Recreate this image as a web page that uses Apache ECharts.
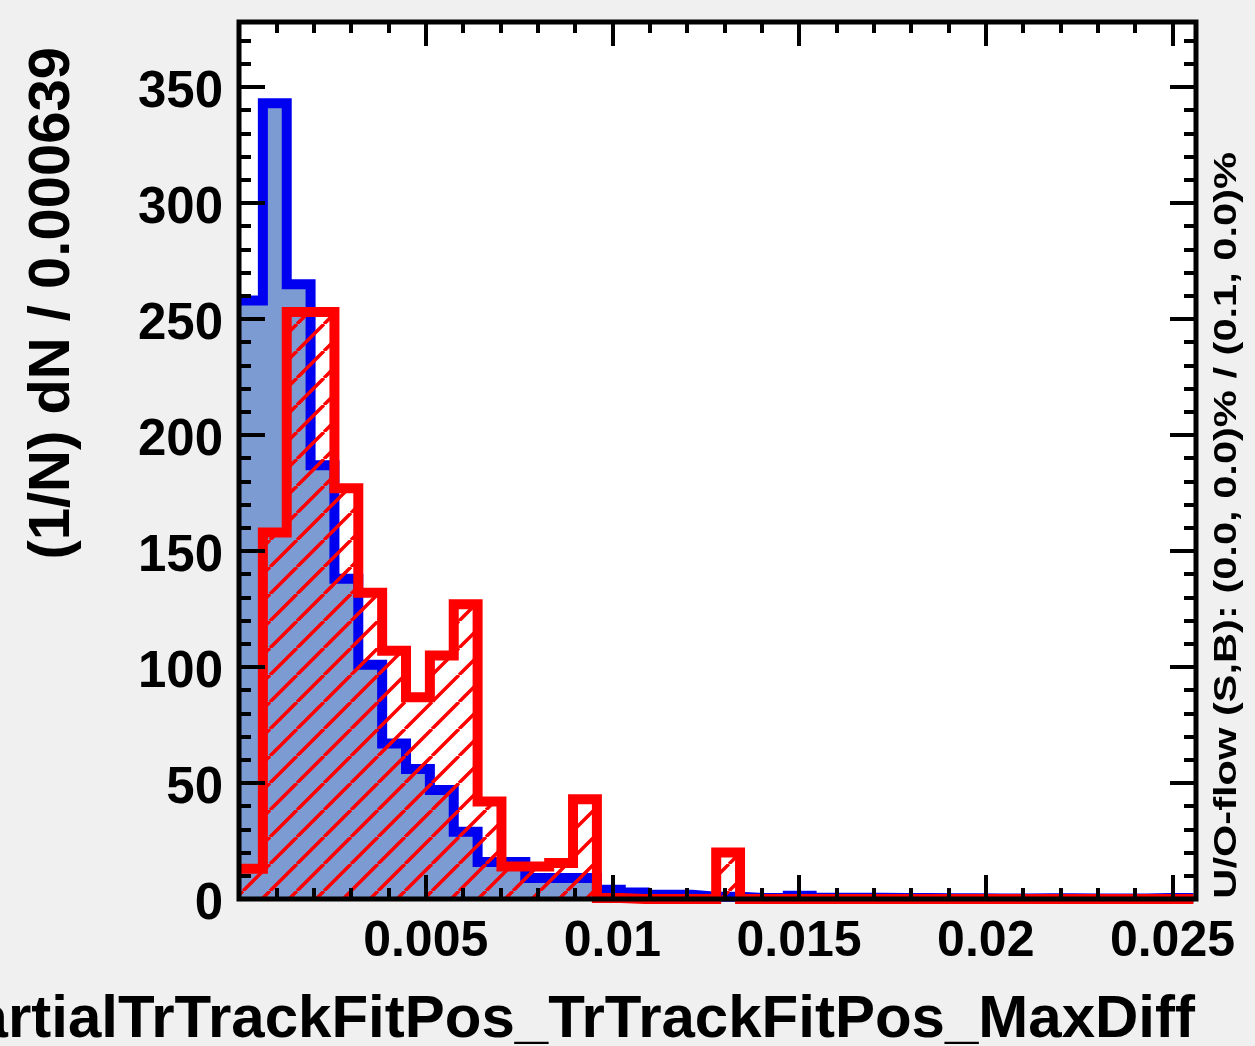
<!DOCTYPE html>
<html>
<head>
<meta charset="utf-8">
<script src="https://cdn.jsdelivr.net/npm/echarts@6/dist/echarts.min.js"></script>
<style>
  html, body { margin: 0; padding: 0; background: #f0f0f0; }
  #main { width: 1255px; height: 1046px; }
</style>
</head>
<body>
<div id="main"></div>
<script>
// histogram bins (width 0.000639)
const binWidth = 0.000639
const signalValues = [
  258, 343, 265, 187, 138, 101, 67, 56, 47, 29,
  16, 16, 9, 9, 9, 4, 2.8, 1.8, 1.8, 1,
  1, 0.4, 0.4, 1.4, 0.5, 0.5, 0.5, 0.4, 0.4, 0.3,
  0.3, 0.2, 0.2, 0.3, 0.3, 0.2, 0.2, 0.2, 0.4, 0.4
]
const backgroundValues = [
  13, 158, 253, 253, 177, 132, 107, 87, 105, 127,
  42, 14, 14, 15.5, 43, 0.4, 0, 0, 0, 0,
  20, 0, 0, 0, 0, 0, 0, 0, 0, 0,
  0, 0, 0, 0, 0, 0, 0, 0, 0, 0
]
const xTickStep = 0.005
const yTickStep = 50

const font = 'Liberation Sans'
const xMax = 0.02563
const yMax = 378

// left bin edges -> step line points
function stepPoints(vals) {
  let pts = vals.map((v, i) => [i * binWidth, v])
  pts.push([vals.length * binWidth, vals[vals.length - 1]])
  return pts
}

// red hatch (/) pattern
let hatch = document.createElement('canvas')
hatch.width = 27
hatch.height = 27
let hctx = hatch.getContext('2d')
hctx.strokeStyle = '#ff0000'
hctx.lineWidth = 3.5
hctx.beginPath()
for (let o of [-27, 0, 27]) {
  hctx.moveTo(o, 27)
  hctx.lineTo(o + 27, 0)
}
hctx.stroke()

const gridBox = { left: 239, top: 22, right: 1255 - 1196, bottom: 1046 - 899 }

function xAxisDef(pos, interval, len, labels) {
  return {
    type: 'value', position: pos, min: 0, max: xMax, interval: interval, z: 10,
    axisLine: { show: false, onZero: false },
    splitLine: { show: false },
    axisTick: { show: true, inside: true, length: len, lineStyle: { color: '#000', width: 4 } },
    axisLabel: {
      show: labels, margin: 18, color: '#000', fontFamily: font, fontWeight: 'bold', fontSize: 50,
      formatter: (v) => {
        let r = v / xTickStep
        return v > 0 && Math.abs(r - Math.round(r)) < 1e-6 ? String(+v.toFixed(3)) : ''
      }
    }
  }
}
function yAxisDef(pos, interval, len, labels) {
  return {
    type: 'value', position: pos, min: 0, max: yMax, interval: interval, z: 10,
    axisLine: { show: false, onZero: false },
    splitLine: { show: false },
    axisTick: { show: true, inside: true, length: len, lineStyle: { color: '#000', width: 4 } },
    axisLabel: {
      show: labels, margin: 16, color: '#000',
      formatter: (v) => (v % yTickStep === 0 ? '{v|' + v + '}' : ''),
      rich: {
        v: { fontFamily: font, fontWeight: 'bold', fontSize: 51, color: '#000', padding: [12, 0, 0, 0] }
      }
    }
  }
}

let myChart = echarts.init(document.getElementById('main'))
let option = {
  animation: false,
  backgroundColor: '#f0f0f0',
  grid: Object.assign({ show: true, backgroundColor: '#fff', borderWidth: 0 }, gridBox),
  xAxis: [
    xAxisDef('bottom', xTickStep, 24, true),
    xAxisDef('bottom', 0.001, 11, false),
    xAxisDef('top', xTickStep, 24, false),
    xAxisDef('top', 0.001, 11, false)
  ],
  yAxis: [
    yAxisDef('left', yTickStep, 26, true),
    yAxisDef('left', 10, 12, false),
    yAxisDef('right', yTickStep, 26, false),
    yAxisDef('right', 10, 12, false)
  ],
  series: [
    {
      name: 'S',
      type: 'line',
      step: 'end',
      showSymbol: false,
      data: stepPoints(signalValues),
      lineStyle: { color: '#0000f0', width: 10, join: 'miter' },
      areaStyle: { color: '#7b9bd2', opacity: 1, origin: 'start' },
      z: 2
    },
    {
      name: 'B',
      type: 'line',
      step: 'end',
      showSymbol: false,
      data: stepPoints(backgroundValues),
      lineStyle: { color: '#ff0000', width: 10, join: 'miter' },
      areaStyle: { color: { image: hatch, repeat: 'repeat' }, opacity: 1, origin: 'start' },
      z: 3
    }
  ],
  graphic: [
    {
      type: 'rect', z: 100, silent: true,
      shape: { x: 239, y: 22, width: 1196 - 239, height: 899 - 22 },
      style: { fill: null, stroke: '#000', lineWidth: 5 }
    },
    {
      type: 'text', z: 100, x: 1195, y: 1020,
      style: {
        text: 'PartialTrTrackFitPos_TrTrackFitPos_MaxDiff', fill: '#000',
        font: 'bold 60px "Liberation Sans"', align: 'right', verticalAlign: 'middle'
      }
    },
    {
      type: 'text', z: 100, x: 53, y: 47, rotation: Math.PI / 2,
      style: {
        text: '(1/N) dN / 0.000639', fill: '#000',
        font: 'bold 58px "Liberation Sans"', align: 'right', verticalAlign: 'middle'
      }
    },
    {
      type: 'text', z: 100, x: 1227, y: 152, rotation: Math.PI / 2, scaleX: 1.3,
      style: {
        text: 'U/O-flow (S,B): (0.0, 0.0)% / (0.1, 0.0)%', fill: '#000',
        font: 'bold 32px "Liberation Sans"', align: 'right', verticalAlign: 'middle'
      }
    }
  ]
}
myChart.setOption(option)
</script>
</body>
</html>
